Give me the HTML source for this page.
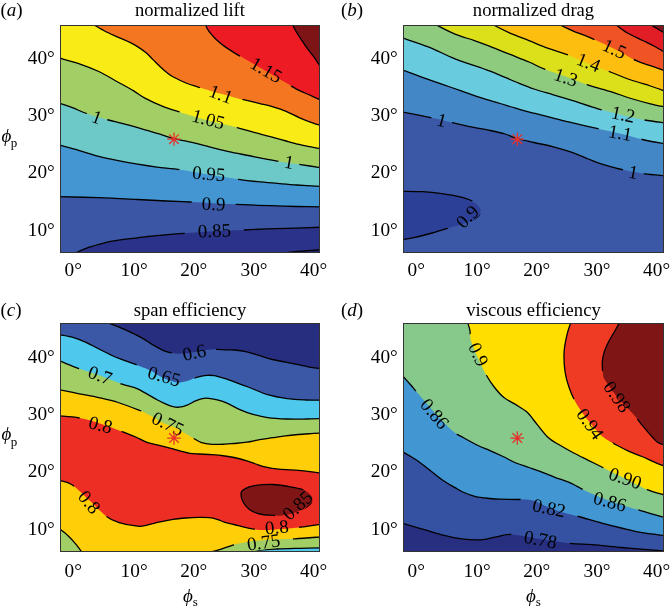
<!DOCTYPE html>
<html><head><meta charset="utf-8"><style>html,body{margin:0;padding:0;background:#fff;width:670px;height:613px;overflow:hidden}svg{display:block;will-change:transform}</style></head>
<body>
<svg width="670" height="613" viewBox="0 0 670 613" font-family='"Liberation Serif", serif'><rect width="670" height="613" fill="#fff"/><clipPath id="clipa"><rect x="60" y="25" width="260" height="228"/></clipPath>
<mask id="maska" maskUnits="userSpaceOnUse" x="0" y="0" width="670" height="613"><rect x="0" y="0" width="670" height="613" fill="#fff"/><rect x="-29.6" y="-7.5" width="59.2" height="15" transform="translate(266.3,69.8) rotate(30)" fill="#000"/><rect x="-22.0" y="-7.5" width="44.0" height="15" transform="translate(221,94) rotate(20)" fill="#000"/><rect x="-29.6" y="-7.5" width="59.2" height="15" transform="translate(208.4,119) rotate(15)" fill="#000"/><rect x="-10.6" y="-7.5" width="21.2" height="15" transform="translate(96.9,117.1) rotate(20)" fill="#000"/><rect x="-10.6" y="-7.5" width="21.2" height="15" transform="translate(289,161.9) rotate(10)" fill="#000"/><rect x="-29.6" y="-7.5" width="59.2" height="15" transform="translate(208.8,173.5) rotate(5)" fill="#000"/><rect x="-22.0" y="-7.5" width="44.0" height="15" transform="translate(213.7,203.6) rotate(2)" fill="#000"/><rect x="-29.6" y="-7.5" width="59.2" height="15" transform="translate(214.3,230.5) rotate(-2)" fill="#000"/></mask>
<g clip-path="url(#clipa)">
<rect x="60" y="25" width="260" height="228" fill="#2a3389"/>
<path d="M277.50,253.50C281.25,253.12 292.75,251.87 300.00,251.20C307.25,250.53 317.50,249.78 321.00,249.50L321.00,254.00Z" fill="#1f2566"/>
<path d="M75.50,254.00C75.75,253.70 75.25,253.15 77.00,252.20C78.75,251.25 82.33,249.60 86.00,248.30C89.67,247.00 94.67,245.58 99.00,244.40C103.33,243.22 107.67,242.07 112.00,241.20C116.33,240.33 120.73,239.77 125.00,239.20C129.27,238.63 133.93,238.23 137.60,237.80C141.27,237.37 143.77,236.97 147.00,236.60C150.23,236.23 150.80,236.15 157.00,235.60C163.20,235.05 174.70,234.03 184.20,233.30C193.70,232.57 204.13,231.75 214.00,231.20C223.87,230.65 234.47,230.38 243.40,230.00C252.33,229.62 260.33,229.18 267.60,228.90C274.87,228.62 278.10,228.58 287.00,228.30C295.90,228.02 315.33,227.38 321.00,227.20L321.00,24.00L59.00,24.00L59.00,254.00Z" fill="#3a56a4"/>
<path d="M59.00,196.60C65.63,196.78 85.70,197.22 98.80,197.70C111.90,198.18 126.28,198.95 137.60,199.50C148.92,200.05 157.97,200.58 166.70,201.00C175.43,201.42 182.28,201.63 190.00,202.00C197.72,202.37 205.40,202.82 213.00,203.20C220.60,203.58 228.12,203.95 235.60,204.30C243.08,204.65 250.95,205.03 257.90,205.30C264.85,205.57 270.83,205.70 277.30,205.90C283.77,206.10 289.42,206.33 296.70,206.50C303.98,206.67 316.95,206.83 321.00,206.90L321.00,24.00L59.00,24.00Z" fill="#4496d2"/>
<path d="M59.00,145.00C62.40,145.93 72.77,148.70 79.40,150.60C86.03,152.50 92.33,154.72 98.80,156.40C105.27,158.08 111.73,159.40 118.20,160.70C124.67,162.00 131.13,163.13 137.60,164.20C144.07,165.27 149.88,166.18 157.00,167.10C164.12,168.02 171.47,168.42 180.30,169.70C189.13,170.98 200.30,173.20 210.00,174.80C219.70,176.40 230.52,178.15 238.50,179.30C246.48,180.45 251.43,181.02 257.90,181.70C264.37,182.38 270.83,182.85 277.30,183.40C283.77,183.95 289.42,184.48 296.70,185.00C303.98,185.52 316.95,186.25 321.00,186.50L321.00,24.00L59.00,24.00Z" fill="#6dc9c7"/>
<path d="M59.00,103.20C61.10,103.90 67.23,105.77 71.60,107.40C75.97,109.03 80.98,111.43 85.20,113.00C89.42,114.57 93.02,115.63 96.90,116.80C100.78,117.97 103.33,118.67 108.50,120.00C113.67,121.33 121.43,123.07 127.90,124.80C134.37,126.53 141.95,128.83 147.30,130.40C152.65,131.97 155.55,132.83 160.00,134.20C164.45,135.57 169.10,137.32 174.00,138.60C178.90,139.88 183.50,140.53 189.40,141.90C195.30,143.27 202.83,145.18 209.40,146.80C215.97,148.42 222.33,150.15 228.80,151.60C235.27,153.05 241.73,154.20 248.20,155.50C254.67,156.80 260.80,158.15 267.60,159.40C274.40,160.65 283.50,162.13 289.00,163.00C294.50,163.87 295.27,163.82 300.60,164.60C305.93,165.38 317.60,167.18 321.00,167.70L321.00,24.00L59.00,24.00Z" fill="#a2cf65"/>
<path d="M59.00,58.00C62.40,58.97 72.77,61.55 79.40,63.80C86.03,66.05 92.33,68.43 98.80,71.50C105.27,74.57 112.38,78.97 118.20,82.20C124.02,85.43 129.17,88.20 133.70,90.90C138.23,93.60 140.55,95.82 145.40,98.40C150.25,100.98 156.98,104.10 162.80,106.40C168.62,108.70 175.77,110.73 180.30,112.20C184.83,113.67 185.05,113.73 190.00,115.20C194.95,116.67 202.57,119.07 210.00,121.00C217.43,122.93 227.27,124.90 234.60,126.80C241.93,128.70 247.60,130.63 254.00,132.40C260.40,134.17 267.65,135.97 273.00,137.40C278.35,138.83 281.75,139.83 286.10,141.00C290.45,142.17 295.18,143.47 299.10,144.40C303.02,145.33 305.95,145.88 309.60,146.60C313.25,147.32 319.10,148.35 321.00,148.70L321.00,24.00L59.00,24.00Z" fill="#f9ec16"/>
<path d="M92.80,24.00C93.10,24.20 92.48,23.95 94.60,25.20C96.72,26.45 101.53,29.48 105.50,31.50C109.47,33.52 114.08,35.35 118.40,37.30C122.72,39.25 127.72,41.32 131.40,43.20C135.08,45.08 137.90,46.87 140.50,48.60C143.10,50.33 144.83,51.68 147.00,53.60C149.17,55.52 151.33,57.95 153.50,60.10C155.67,62.25 157.83,64.47 160.00,66.50C162.17,68.53 164.33,70.58 166.50,72.30C168.67,74.02 169.75,75.02 173.00,76.80C176.25,78.58 181.90,81.32 186.00,83.00C190.10,84.68 194.80,86.00 197.60,86.90C200.40,87.80 199.07,87.28 202.80,88.40C206.53,89.52 214.80,92.10 220.00,93.60C225.20,95.10 230.27,96.43 234.00,97.40C237.73,98.37 238.07,98.37 242.40,99.40C246.73,100.43 254.90,102.35 260.00,103.60C265.10,104.85 268.65,105.62 273.00,106.90C277.35,108.18 281.75,109.52 286.10,111.30C290.45,113.08 295.18,115.85 299.10,117.60C303.02,119.35 305.95,120.47 309.60,121.80C313.25,123.13 319.10,124.97 321.00,125.60L321.00,24.00Z" fill="#f47620"/>
<path d="M205.30,24.00C205.62,24.75 206.43,27.08 207.20,28.50C207.97,29.92 208.45,30.72 209.90,32.50C211.35,34.28 213.40,36.85 215.90,39.20C218.40,41.55 221.05,43.87 224.90,46.60C228.75,49.33 232.15,51.53 239.00,55.60C245.85,59.67 257.67,66.17 266.00,71.00C274.33,75.83 283.48,81.37 289.00,84.60C294.52,87.83 295.67,88.67 299.10,90.40C302.53,92.13 305.95,93.37 309.60,95.00C313.25,96.63 319.10,99.33 321.00,100.20L321.00,24.00Z" fill="#ed1c24"/>
<path d="M292.40,24.00C292.83,24.92 294.00,27.63 295.00,29.50C296.00,31.37 296.57,32.35 298.40,35.20C300.23,38.05 303.45,43.02 306.00,46.60C308.55,50.18 311.57,53.75 313.70,56.70C315.83,59.65 317.58,62.50 318.80,64.30C320.02,66.10 320.63,66.97 321.00,67.50L321.00,24.00Z" fill="#7f1416"/>
<g mask="url(#maska)" fill="none" stroke="#000" stroke-width="1.3" stroke-linejoin="round">
<path d="M277.50,253.50C281.25,253.12 292.75,251.87 300.00,251.20C307.25,250.53 317.50,249.78 321.00,249.50"/>
<path d="M75.50,254.00C75.75,253.70 75.25,253.15 77.00,252.20C78.75,251.25 82.33,249.60 86.00,248.30C89.67,247.00 94.67,245.58 99.00,244.40C103.33,243.22 107.67,242.07 112.00,241.20C116.33,240.33 120.73,239.77 125.00,239.20C129.27,238.63 133.93,238.23 137.60,237.80C141.27,237.37 143.77,236.97 147.00,236.60C150.23,236.23 150.80,236.15 157.00,235.60C163.20,235.05 174.70,234.03 184.20,233.30C193.70,232.57 204.13,231.75 214.00,231.20C223.87,230.65 234.47,230.38 243.40,230.00C252.33,229.62 260.33,229.18 267.60,228.90C274.87,228.62 278.10,228.58 287.00,228.30C295.90,228.02 315.33,227.38 321.00,227.20"/>
<path d="M59.00,196.60C65.63,196.78 85.70,197.22 98.80,197.70C111.90,198.18 126.28,198.95 137.60,199.50C148.92,200.05 157.97,200.58 166.70,201.00C175.43,201.42 182.28,201.63 190.00,202.00C197.72,202.37 205.40,202.82 213.00,203.20C220.60,203.58 228.12,203.95 235.60,204.30C243.08,204.65 250.95,205.03 257.90,205.30C264.85,205.57 270.83,205.70 277.30,205.90C283.77,206.10 289.42,206.33 296.70,206.50C303.98,206.67 316.95,206.83 321.00,206.90"/>
<path d="M59.00,145.00C62.40,145.93 72.77,148.70 79.40,150.60C86.03,152.50 92.33,154.72 98.80,156.40C105.27,158.08 111.73,159.40 118.20,160.70C124.67,162.00 131.13,163.13 137.60,164.20C144.07,165.27 149.88,166.18 157.00,167.10C164.12,168.02 171.47,168.42 180.30,169.70C189.13,170.98 200.30,173.20 210.00,174.80C219.70,176.40 230.52,178.15 238.50,179.30C246.48,180.45 251.43,181.02 257.90,181.70C264.37,182.38 270.83,182.85 277.30,183.40C283.77,183.95 289.42,184.48 296.70,185.00C303.98,185.52 316.95,186.25 321.00,186.50"/>
<path d="M59.00,103.20C61.10,103.90 67.23,105.77 71.60,107.40C75.97,109.03 80.98,111.43 85.20,113.00C89.42,114.57 93.02,115.63 96.90,116.80C100.78,117.97 103.33,118.67 108.50,120.00C113.67,121.33 121.43,123.07 127.90,124.80C134.37,126.53 141.95,128.83 147.30,130.40C152.65,131.97 155.55,132.83 160.00,134.20C164.45,135.57 169.10,137.32 174.00,138.60C178.90,139.88 183.50,140.53 189.40,141.90C195.30,143.27 202.83,145.18 209.40,146.80C215.97,148.42 222.33,150.15 228.80,151.60C235.27,153.05 241.73,154.20 248.20,155.50C254.67,156.80 260.80,158.15 267.60,159.40C274.40,160.65 283.50,162.13 289.00,163.00C294.50,163.87 295.27,163.82 300.60,164.60C305.93,165.38 317.60,167.18 321.00,167.70"/>
<path d="M59.00,58.00C62.40,58.97 72.77,61.55 79.40,63.80C86.03,66.05 92.33,68.43 98.80,71.50C105.27,74.57 112.38,78.97 118.20,82.20C124.02,85.43 129.17,88.20 133.70,90.90C138.23,93.60 140.55,95.82 145.40,98.40C150.25,100.98 156.98,104.10 162.80,106.40C168.62,108.70 175.77,110.73 180.30,112.20C184.83,113.67 185.05,113.73 190.00,115.20C194.95,116.67 202.57,119.07 210.00,121.00C217.43,122.93 227.27,124.90 234.60,126.80C241.93,128.70 247.60,130.63 254.00,132.40C260.40,134.17 267.65,135.97 273.00,137.40C278.35,138.83 281.75,139.83 286.10,141.00C290.45,142.17 295.18,143.47 299.10,144.40C303.02,145.33 305.95,145.88 309.60,146.60C313.25,147.32 319.10,148.35 321.00,148.70"/>
<path d="M92.80,24.00C93.10,24.20 92.48,23.95 94.60,25.20C96.72,26.45 101.53,29.48 105.50,31.50C109.47,33.52 114.08,35.35 118.40,37.30C122.72,39.25 127.72,41.32 131.40,43.20C135.08,45.08 137.90,46.87 140.50,48.60C143.10,50.33 144.83,51.68 147.00,53.60C149.17,55.52 151.33,57.95 153.50,60.10C155.67,62.25 157.83,64.47 160.00,66.50C162.17,68.53 164.33,70.58 166.50,72.30C168.67,74.02 169.75,75.02 173.00,76.80C176.25,78.58 181.90,81.32 186.00,83.00C190.10,84.68 194.80,86.00 197.60,86.90C200.40,87.80 199.07,87.28 202.80,88.40C206.53,89.52 214.80,92.10 220.00,93.60C225.20,95.10 230.27,96.43 234.00,97.40C237.73,98.37 238.07,98.37 242.40,99.40C246.73,100.43 254.90,102.35 260.00,103.60C265.10,104.85 268.65,105.62 273.00,106.90C277.35,108.18 281.75,109.52 286.10,111.30C290.45,113.08 295.18,115.85 299.10,117.60C303.02,119.35 305.95,120.47 309.60,121.80C313.25,123.13 319.10,124.97 321.00,125.60"/>
<path d="M205.30,24.00C205.62,24.75 206.43,27.08 207.20,28.50C207.97,29.92 208.45,30.72 209.90,32.50C211.35,34.28 213.40,36.85 215.90,39.20C218.40,41.55 221.05,43.87 224.90,46.60C228.75,49.33 232.15,51.53 239.00,55.60C245.85,59.67 257.67,66.17 266.00,71.00C274.33,75.83 283.48,81.37 289.00,84.60C294.52,87.83 295.67,88.67 299.10,90.40C302.53,92.13 305.95,93.37 309.60,95.00C313.25,96.63 319.10,99.33 321.00,100.20"/>
<path d="M292.40,24.00C292.83,24.92 294.00,27.63 295.00,29.50C296.00,31.37 296.57,32.35 298.40,35.20C300.23,38.05 303.45,43.02 306.00,46.60C308.55,50.18 311.57,53.75 313.70,56.70C315.83,59.65 317.58,62.50 318.80,64.30C320.02,66.10 320.63,66.97 321.00,67.50"/>
</g>
<text transform="translate(266.3,69.8) rotate(30)" x="0" y="6.46" text-anchor="middle" font-size="19">1.15</text>
<text transform="translate(221,94) rotate(20)" x="0" y="6.46" text-anchor="middle" font-size="19">1.1</text>
<text transform="translate(208.4,119) rotate(15)" x="0" y="6.46" text-anchor="middle" font-size="19">1.05</text>
<text transform="translate(96.9,117.1) rotate(20)" x="0" y="6.46" text-anchor="middle" font-size="19">1</text>
<text transform="translate(289,161.9) rotate(10)" x="0" y="6.46" text-anchor="middle" font-size="19">1</text>
<text transform="translate(208.8,173.5) rotate(5)" x="0" y="6.46" text-anchor="middle" font-size="19">0.95</text>
<text transform="translate(213.7,203.6) rotate(2)" x="0" y="6.46" text-anchor="middle" font-size="19">0.9</text>
<text transform="translate(214.3,230.5) rotate(-2)" x="0" y="6.46" text-anchor="middle" font-size="19">0.85</text>
<path d="M167.20,139.20L180.80,139.20M169.19,134.39L178.81,144.01M174.00,132.40L174.00,146.00M178.81,134.39L169.19,144.01" stroke="#e8302a" stroke-width="1.25" fill="none"/>
</g>
<rect x="60.5" y="25.5" width="259" height="227" fill="none" stroke="#333" stroke-width="1"/><clipPath id="clipb"><rect x="403" y="25" width="261" height="228"/></clipPath>
<mask id="maskb" maskUnits="userSpaceOnUse" x="0" y="0" width="670" height="613"><rect x="0" y="0" width="670" height="613" fill="#fff"/><rect x="-22.0" y="-7.5" width="44.0" height="15" transform="translate(614.5,48.7) rotate(25)" fill="#000"/><rect x="-22.0" y="-7.5" width="44.0" height="15" transform="translate(588.7,62.2) rotate(22)" fill="#000"/><rect x="-22.0" y="-7.5" width="44.0" height="15" transform="translate(566,77) rotate(18)" fill="#000"/><rect x="-22.0" y="-7.5" width="44.0" height="15" transform="translate(623.3,114.2) rotate(12)" fill="#000"/><rect x="-22.0" y="-7.5" width="44.0" height="15" transform="translate(620.3,132.6) rotate(10)" fill="#000"/><rect x="-10.6" y="-7.5" width="21.2" height="15" transform="translate(441.8,120) rotate(15)" fill="#000"/><rect x="-10.6" y="-7.5" width="21.2" height="15" transform="translate(633.3,172) rotate(10)" fill="#000"/><rect x="-22.0" y="-7.5" width="44.0" height="15" transform="translate(467.2,216.5) rotate(-45)" fill="#000"/></mask>
<g clip-path="url(#clipb)">
<rect x="403" y="25" width="261" height="228" fill="#3b58a6"/>
<path d="M402.00,191.30C405.40,191.37 415.77,191.30 422.40,191.70C429.03,192.10 435.33,192.78 441.80,193.70C448.27,194.62 455.87,195.82 461.20,197.20C466.53,198.58 470.57,199.78 473.80,202.00C477.03,204.22 480.40,207.67 480.60,210.50C480.80,213.33 478.10,216.75 475.00,219.00C471.90,221.25 466.08,222.60 462.00,224.00C457.92,225.40 455.48,225.90 450.50,227.40C445.52,228.90 438.40,231.25 432.10,233.00C425.80,234.75 417.72,236.80 412.70,237.90C407.68,239.00 403.78,239.32 402.00,239.60L402.00,190.00Z" fill="#2d4098"/>
<path d="M402.00,112.00C406.37,112.85 421.57,115.77 428.20,117.10C434.83,118.43 437.60,119.03 441.80,120.00C446.00,120.97 448.55,121.77 453.40,122.90C458.25,124.03 464.75,125.53 470.90,126.80C477.05,128.07 484.62,129.30 490.30,130.50C495.98,131.70 500.55,132.67 505.00,134.00C509.45,135.33 512.17,137.08 517.00,138.50C521.83,139.92 527.93,141.12 534.00,142.50C540.07,143.88 546.93,145.12 553.40,146.80C559.87,148.48 566.98,150.57 572.80,152.60C578.62,154.63 583.45,157.07 588.30,159.00C593.15,160.93 596.72,162.53 601.90,164.20C607.08,165.87 614.22,167.73 619.40,169.00C624.58,170.27 628.80,170.98 633.00,171.80C637.20,172.62 639.27,173.23 644.60,173.90C649.93,174.57 661.60,175.48 665.00,175.80L665.00,24.00L402.00,24.00Z" fill="#4487c6"/>
<path d="M402.00,69.80C405.40,71.05 415.77,74.92 422.40,77.30C429.03,79.68 435.33,81.83 441.80,84.10C448.27,86.37 454.73,88.63 461.20,90.90C467.67,93.17 474.13,95.60 480.60,97.70C487.07,99.80 493.53,101.57 500.00,103.50C506.47,105.43 513.73,107.68 519.40,109.30C525.07,110.92 528.33,111.73 534.00,113.20C539.67,114.67 546.93,116.48 553.40,118.10C559.87,119.72 565.37,121.13 572.80,122.90C580.23,124.67 590.13,126.93 598.00,128.70C605.87,130.47 612.23,131.62 620.00,133.50C627.77,135.38 637.10,138.28 644.60,140.00C652.10,141.72 661.60,143.17 665.00,143.80L665.00,24.00L402.00,24.00Z" fill="#68ccde"/>
<path d="M402.00,37.80C406.50,39.35 420.17,43.60 429.00,47.10C437.83,50.60 444.83,54.80 455.00,58.80C465.17,62.80 479.83,67.23 490.00,71.10C500.17,74.97 508.67,79.02 516.00,82.00C523.33,84.98 527.77,86.87 534.00,89.00C540.23,91.13 546.93,92.87 553.40,94.80C559.87,96.73 565.37,98.27 572.80,100.60C580.23,102.93 589.80,106.40 598.00,108.80C606.20,111.20 614.23,113.13 622.00,115.00C629.77,116.87 637.43,118.68 644.60,120.00C651.77,121.32 661.60,122.42 665.00,122.90L665.00,24.00L402.00,24.00Z" fill="#8ecb7e"/>
<path d="M436.00,24.00C436.25,24.25 434.33,23.82 437.50,25.50C440.67,27.18 448.85,31.58 455.00,34.10C461.15,36.62 468.57,38.55 474.40,40.60C480.23,42.65 484.15,44.13 490.00,46.40C495.85,48.67 503.00,51.60 509.50,54.20C516.00,56.80 523.15,59.50 529.00,62.00C534.85,64.50 538.43,66.78 544.60,69.20C550.77,71.62 558.72,73.85 566.00,76.50C573.28,79.15 580.70,82.53 588.30,85.10C595.90,87.67 604.48,89.67 611.60,91.90C618.72,94.13 624.53,96.52 631.00,98.50C637.47,100.48 644.73,102.38 650.40,103.80C656.07,105.22 662.57,106.47 665.00,107.00L665.00,24.00Z" fill="#dce01a"/>
<path d="M493.00,24.00C493.25,24.25 491.75,24.03 494.50,25.50C497.25,26.97 503.75,30.28 509.50,32.80C515.25,35.32 522.52,38.00 529.00,40.60C535.48,43.20 541.92,46.02 548.40,48.40C554.88,50.78 561.13,52.30 567.90,54.90C574.67,57.50 581.72,61.07 589.00,64.00C596.28,66.93 604.60,69.83 611.60,72.50C618.60,75.17 624.53,77.75 631.00,80.00C637.47,82.25 644.73,84.17 650.40,86.00C656.07,87.83 662.57,90.17 665.00,91.00L665.00,24.00Z" fill="#febe10"/>
<path d="M558.50,24.00C560.88,25.13 567.18,28.37 572.80,30.80C578.42,33.23 585.25,35.57 592.20,38.60C599.15,41.63 607.07,45.28 614.50,49.00C621.93,52.72 630.82,58.12 636.80,60.90C642.78,63.68 645.70,64.05 650.40,65.70C655.10,67.35 662.57,69.95 665.00,70.80L665.00,24.00Z" fill="#f05424"/>
<path d="M615.00,24.00C617.02,25.47 622.48,30.05 627.10,32.80C631.72,35.55 638.17,38.25 642.70,40.50C647.23,42.75 650.58,44.30 654.30,46.30C658.02,48.30 663.22,51.47 665.00,52.50L665.00,24.00Z" fill="#e11e26"/>
<path d="M649.80,24.00C650.92,24.70 653.97,26.67 656.50,28.20C659.03,29.73 663.58,32.37 665.00,33.20L665.00,24.00Z" fill="#7f1416"/>
<g mask="url(#maskb)" fill="none" stroke="#000" stroke-width="1.3" stroke-linejoin="round">
<path d="M402.00,191.30C405.40,191.37 415.77,191.30 422.40,191.70C429.03,192.10 435.33,192.78 441.80,193.70C448.27,194.62 455.87,195.82 461.20,197.20C466.53,198.58 470.57,199.78 473.80,202.00C477.03,204.22 480.40,207.67 480.60,210.50C480.80,213.33 478.10,216.75 475.00,219.00C471.90,221.25 466.08,222.60 462.00,224.00C457.92,225.40 455.48,225.90 450.50,227.40C445.52,228.90 438.40,231.25 432.10,233.00C425.80,234.75 417.72,236.80 412.70,237.90C407.68,239.00 403.78,239.32 402.00,239.60"/>
<path d="M402.00,112.00C406.37,112.85 421.57,115.77 428.20,117.10C434.83,118.43 437.60,119.03 441.80,120.00C446.00,120.97 448.55,121.77 453.40,122.90C458.25,124.03 464.75,125.53 470.90,126.80C477.05,128.07 484.62,129.30 490.30,130.50C495.98,131.70 500.55,132.67 505.00,134.00C509.45,135.33 512.17,137.08 517.00,138.50C521.83,139.92 527.93,141.12 534.00,142.50C540.07,143.88 546.93,145.12 553.40,146.80C559.87,148.48 566.98,150.57 572.80,152.60C578.62,154.63 583.45,157.07 588.30,159.00C593.15,160.93 596.72,162.53 601.90,164.20C607.08,165.87 614.22,167.73 619.40,169.00C624.58,170.27 628.80,170.98 633.00,171.80C637.20,172.62 639.27,173.23 644.60,173.90C649.93,174.57 661.60,175.48 665.00,175.80"/>
<path d="M402.00,69.80C405.40,71.05 415.77,74.92 422.40,77.30C429.03,79.68 435.33,81.83 441.80,84.10C448.27,86.37 454.73,88.63 461.20,90.90C467.67,93.17 474.13,95.60 480.60,97.70C487.07,99.80 493.53,101.57 500.00,103.50C506.47,105.43 513.73,107.68 519.40,109.30C525.07,110.92 528.33,111.73 534.00,113.20C539.67,114.67 546.93,116.48 553.40,118.10C559.87,119.72 565.37,121.13 572.80,122.90C580.23,124.67 590.13,126.93 598.00,128.70C605.87,130.47 612.23,131.62 620.00,133.50C627.77,135.38 637.10,138.28 644.60,140.00C652.10,141.72 661.60,143.17 665.00,143.80"/>
<path d="M402.00,37.80C406.50,39.35 420.17,43.60 429.00,47.10C437.83,50.60 444.83,54.80 455.00,58.80C465.17,62.80 479.83,67.23 490.00,71.10C500.17,74.97 508.67,79.02 516.00,82.00C523.33,84.98 527.77,86.87 534.00,89.00C540.23,91.13 546.93,92.87 553.40,94.80C559.87,96.73 565.37,98.27 572.80,100.60C580.23,102.93 589.80,106.40 598.00,108.80C606.20,111.20 614.23,113.13 622.00,115.00C629.77,116.87 637.43,118.68 644.60,120.00C651.77,121.32 661.60,122.42 665.00,122.90"/>
<path d="M436.00,24.00C436.25,24.25 434.33,23.82 437.50,25.50C440.67,27.18 448.85,31.58 455.00,34.10C461.15,36.62 468.57,38.55 474.40,40.60C480.23,42.65 484.15,44.13 490.00,46.40C495.85,48.67 503.00,51.60 509.50,54.20C516.00,56.80 523.15,59.50 529.00,62.00C534.85,64.50 538.43,66.78 544.60,69.20C550.77,71.62 558.72,73.85 566.00,76.50C573.28,79.15 580.70,82.53 588.30,85.10C595.90,87.67 604.48,89.67 611.60,91.90C618.72,94.13 624.53,96.52 631.00,98.50C637.47,100.48 644.73,102.38 650.40,103.80C656.07,105.22 662.57,106.47 665.00,107.00"/>
<path d="M493.00,24.00C493.25,24.25 491.75,24.03 494.50,25.50C497.25,26.97 503.75,30.28 509.50,32.80C515.25,35.32 522.52,38.00 529.00,40.60C535.48,43.20 541.92,46.02 548.40,48.40C554.88,50.78 561.13,52.30 567.90,54.90C574.67,57.50 581.72,61.07 589.00,64.00C596.28,66.93 604.60,69.83 611.60,72.50C618.60,75.17 624.53,77.75 631.00,80.00C637.47,82.25 644.73,84.17 650.40,86.00C656.07,87.83 662.57,90.17 665.00,91.00"/>
<path d="M558.50,24.00C560.88,25.13 567.18,28.37 572.80,30.80C578.42,33.23 585.25,35.57 592.20,38.60C599.15,41.63 607.07,45.28 614.50,49.00C621.93,52.72 630.82,58.12 636.80,60.90C642.78,63.68 645.70,64.05 650.40,65.70C655.10,67.35 662.57,69.95 665.00,70.80"/>
<path d="M615.00,24.00C617.02,25.47 622.48,30.05 627.10,32.80C631.72,35.55 638.17,38.25 642.70,40.50C647.23,42.75 650.58,44.30 654.30,46.30C658.02,48.30 663.22,51.47 665.00,52.50"/>
<path d="M649.80,24.00C650.92,24.70 653.97,26.67 656.50,28.20C659.03,29.73 663.58,32.37 665.00,33.20"/>
</g>
<text transform="translate(614.5,48.7) rotate(25)" x="0" y="6.46" text-anchor="middle" font-size="19">1.5</text>
<text transform="translate(588.7,62.2) rotate(22)" x="0" y="6.46" text-anchor="middle" font-size="19">1.4</text>
<text transform="translate(566,77) rotate(18)" x="0" y="6.46" text-anchor="middle" font-size="19">1.3</text>
<text transform="translate(623.3,114.2) rotate(12)" x="0" y="6.46" text-anchor="middle" font-size="19">1.2</text>
<text transform="translate(620.3,132.6) rotate(10)" x="0" y="6.46" text-anchor="middle" font-size="19">1.1</text>
<text transform="translate(441.8,120) rotate(15)" x="0" y="6.46" text-anchor="middle" font-size="19">1</text>
<text transform="translate(633.3,172) rotate(10)" x="0" y="6.46" text-anchor="middle" font-size="19">1</text>
<text transform="translate(467.2,216.5) rotate(-45)" x="0" y="6.46" text-anchor="middle" font-size="19">0.9</text>
<path d="M510.50,139.20L524.10,139.20M512.49,134.39L522.11,144.01M517.30,132.40L517.30,146.00M522.11,134.39L512.49,144.01" stroke="#e8302a" stroke-width="1.25" fill="none"/>
</g>
<rect x="403.5" y="25.5" width="260" height="227" fill="none" stroke="#333" stroke-width="1"/><clipPath id="clipc"><rect x="60" y="323" width="260" height="229"/></clipPath>
<mask id="maskc" maskUnits="userSpaceOnUse" x="0" y="0" width="670" height="613"><rect x="0" y="0" width="670" height="613" fill="#fff"/><rect x="-22.0" y="-7.5" width="44.0" height="15" transform="translate(194.2,352.3) rotate(-12)" fill="#000"/><rect x="-29.6" y="-7.5" width="59.2" height="15" transform="translate(164.3,376) rotate(16)" fill="#000"/><rect x="-22.0" y="-7.5" width="44.0" height="15" transform="translate(100.2,375) rotate(20)" fill="#000"/><rect x="-29.6" y="-7.5" width="59.2" height="15" transform="translate(168,423.6) rotate(26)" fill="#000"/><rect x="-22.0" y="-7.5" width="44.0" height="15" transform="translate(100.7,424.5) rotate(15)" fill="#000"/><rect x="-22.0" y="-7.5" width="44.0" height="15" transform="translate(89.5,502) rotate(50)" fill="#000"/><rect x="-29.6" y="-7.5" width="59.2" height="15" transform="translate(297.3,505.3) rotate(-43)" fill="#000"/><rect x="-22.0" y="-7.5" width="44.0" height="15" transform="translate(276.8,527) rotate(-5)" fill="#000"/><rect x="-29.6" y="-7.5" width="59.2" height="15" transform="translate(263.5,542) rotate(-8)" fill="#000"/></mask>
<g clip-path="url(#clipc)">
<rect x="60" y="323" width="260" height="229" fill="#272e80"/>
<path d="M108.00,322.00C108.35,322.27 108.45,322.83 110.10,323.60C111.75,324.37 114.60,325.22 117.90,326.60C121.20,327.98 125.92,330.02 129.90,331.90C133.88,333.78 138.23,335.90 141.80,337.90C145.37,339.90 148.32,342.10 151.30,343.90C154.28,345.70 156.90,347.32 159.70,348.70C162.50,350.08 164.72,351.35 168.10,352.20C171.48,353.05 175.68,353.78 180.00,353.80C184.32,353.82 189.83,352.90 194.00,352.30C198.17,351.70 201.28,350.70 205.00,350.20C208.72,349.70 212.80,349.37 216.30,349.30C219.80,349.23 223.05,349.68 226.00,349.80C228.95,349.92 230.53,349.65 234.00,350.00C237.47,350.35 242.52,350.95 246.80,351.90C251.08,352.85 255.42,354.43 259.70,355.70C263.98,356.97 268.22,358.43 272.50,359.50C276.78,360.57 281.12,361.23 285.40,362.10C289.68,362.97 293.93,363.83 298.20,364.70C302.47,365.57 307.20,366.65 311.00,367.30C314.80,367.95 319.33,368.38 321.00,368.60L321.00,553.00L59.00,553.00L59.00,322.00Z" fill="#3b58a6"/>
<path d="M59.00,334.60C61.33,335.05 68.50,336.02 73.00,337.30C77.50,338.58 81.67,340.35 86.00,342.30C90.33,344.25 94.67,346.80 99.00,349.00C103.33,351.20 107.67,353.55 112.00,355.50C116.33,357.45 120.47,358.97 125.00,360.70C129.53,362.43 134.88,364.23 139.20,365.90C143.52,367.57 147.22,368.87 150.90,370.70C154.58,372.53 157.82,375.17 161.30,376.90C164.78,378.63 168.83,380.13 171.80,381.10C174.77,382.07 176.32,382.78 179.10,382.70C181.88,382.62 185.88,381.38 188.50,380.60C191.12,379.82 192.80,378.70 194.80,378.00C196.80,377.30 198.42,376.85 200.50,376.40C202.58,375.95 205.05,375.43 207.30,375.30C209.55,375.17 211.88,375.28 214.00,375.60C216.12,375.92 217.53,376.50 220.00,377.20C222.47,377.90 224.10,378.17 228.80,379.80C233.50,381.43 241.73,384.52 248.20,387.00C254.67,389.48 261.13,392.77 267.60,394.70C274.07,396.63 280.53,397.72 287.00,398.60C293.47,399.48 300.73,399.73 306.40,400.00C312.07,400.27 318.57,400.17 321.00,400.20L321.00,553.00L59.00,553.00Z" fill="#4ec8ec"/>
<path d="M59.00,360.50C61.98,361.72 70.07,365.30 76.90,367.80C83.73,370.30 92.47,372.78 100.00,375.50C107.53,378.22 115.83,381.87 122.10,384.10C128.37,386.33 131.78,386.28 137.60,388.90C143.42,391.52 152.43,397.35 157.00,399.80C161.57,402.25 162.50,402.52 165.00,403.60C167.50,404.68 169.67,405.70 172.00,406.30C174.33,406.90 176.47,407.40 179.00,407.20C181.53,407.00 184.45,406.15 187.20,405.10C189.95,404.05 192.72,402.03 195.50,400.90C198.28,399.77 201.12,398.65 203.90,398.30C206.68,397.95 209.07,398.28 212.20,398.80C215.33,399.32 219.73,400.43 222.70,401.40C225.67,402.37 227.05,403.20 230.00,404.60C232.95,406.00 236.72,408.22 240.40,409.80C244.08,411.38 247.57,412.80 252.10,414.10C256.63,415.40 261.78,416.78 267.60,417.60C273.42,418.42 280.53,418.77 287.00,419.00C293.47,419.23 300.73,419.07 306.40,419.00C312.07,418.93 318.57,418.67 321.00,418.60L321.00,553.00L59.00,553.00Z" fill="#a2ce66"/>
<path d="M59.00,389.70C62.40,390.38 72.77,392.48 79.40,393.80C86.03,395.12 92.33,396.15 98.80,397.60C105.27,399.05 111.08,400.23 118.20,402.50C125.32,404.77 137.03,409.48 141.50,411.20C145.97,412.92 143.05,411.78 145.00,412.80C146.95,413.82 150.47,415.73 153.20,417.30C155.93,418.87 158.67,420.83 161.40,422.20C164.13,423.57 166.87,424.40 169.60,425.50C172.33,426.60 175.33,427.57 177.80,428.80C180.27,430.03 182.33,431.67 184.40,432.90C186.47,434.13 188.55,435.23 190.20,436.20C191.85,437.17 192.42,437.63 194.30,438.70C196.18,439.77 198.57,441.67 201.50,442.60C204.43,443.53 208.00,444.03 211.90,444.30C215.80,444.57 221.22,444.33 224.90,444.20C228.58,444.07 230.35,443.83 234.00,443.50C237.65,443.17 242.52,442.85 246.80,442.20C251.08,441.55 255.42,440.35 259.70,439.60C263.98,438.85 268.22,438.33 272.50,437.70C276.78,437.07 281.12,436.33 285.40,435.80C289.68,435.27 293.93,434.87 298.20,434.50C302.47,434.13 307.20,433.85 311.00,433.60C314.80,433.35 319.33,433.10 321.00,433.00L321.00,553.00L59.00,553.00Z" fill="#fece08"/>
<path d="M59.00,415.90C62.40,416.25 72.57,416.73 79.40,418.00C86.23,419.27 92.88,421.23 100.00,423.50C107.12,425.77 116.15,429.35 122.10,431.60C128.05,433.85 131.55,435.22 135.70,437.00C139.85,438.78 142.95,440.87 147.00,442.30C151.05,443.73 155.67,444.52 160.00,445.60C164.33,446.68 169.33,447.83 173.00,448.80C176.67,449.77 179.20,450.65 182.00,451.40C184.80,452.15 186.98,452.87 189.80,453.30C192.62,453.73 195.22,453.77 198.90,454.00C202.58,454.23 207.57,454.37 211.90,454.70C216.23,455.03 221.22,455.53 224.90,456.00C228.58,456.47 230.35,456.70 234.00,457.50C237.65,458.30 243.17,459.72 246.80,460.80C250.43,461.88 252.60,462.93 255.80,464.00C259.00,465.07 262.15,466.33 266.00,467.20C269.85,468.07 273.53,468.67 278.90,469.20C284.27,469.73 293.02,470.00 298.20,470.40C303.38,470.80 306.20,471.13 310.00,471.60C313.80,472.07 319.17,472.93 321.00,473.20L321.00,553.00L59.00,553.00Z" fill="#ed2e24"/>
<path d="M59.00,480.40C61.10,481.08 66.60,481.23 71.60,484.50C76.60,487.77 83.17,494.67 89.00,500.00C94.83,505.33 101.73,512.78 106.60,516.50C111.47,520.22 113.03,520.68 118.20,522.30C123.37,523.92 132.80,525.72 137.60,526.20C142.40,526.68 143.27,525.92 147.00,525.20C150.73,524.48 155.67,522.88 160.00,521.90C164.33,520.92 168.67,519.95 173.00,519.30C177.33,518.65 181.67,518.32 186.00,518.00C190.33,517.68 195.12,517.47 199.00,517.40C202.88,517.33 206.28,517.28 209.30,517.60C212.32,517.92 214.50,518.52 217.10,519.30C219.70,520.08 222.08,521.43 224.90,522.30C227.72,523.17 230.12,523.53 234.00,524.50C237.88,525.47 243.25,527.17 248.20,528.10C253.15,529.03 258.07,529.95 263.70,530.10C269.33,530.25 275.85,529.48 282.00,529.00C288.15,528.52 294.10,527.98 300.60,527.20C307.10,526.42 317.60,524.78 321.00,524.30L321.00,553.00L59.00,553.00Z" fill="#fece08"/>
<path d="M59.00,528.50C60.47,529.67 65.03,532.93 67.80,535.50C70.57,538.07 73.22,541.07 75.60,543.90C77.98,546.73 80.87,550.82 82.10,552.50C83.33,554.18 82.85,553.75 83.00,554.00L59.00,553.00Z" fill="#a2ce66"/>
<path d="M203.00,553.00C205.37,552.57 211.28,551.97 217.20,550.40C223.12,548.83 230.53,545.33 238.50,543.60C246.47,541.87 255.62,540.80 265.00,540.00C274.38,539.20 285.47,539.32 294.80,538.80C304.13,538.28 316.63,537.22 321.00,536.90L321.00,553.00Z" fill="#a2ce66"/>
<path d="M246.00,553.00C248.33,552.53 254.78,550.87 260.00,550.20C265.22,549.53 270.63,549.32 277.30,549.00C283.97,548.68 292.72,548.50 300.00,548.30C307.28,548.10 317.50,547.88 321.00,547.80L321.00,553.00Z" fill="#4ec8ec"/>
<path d="M241.10,492.80C241.43,490.63 242.97,489.97 245.00,488.80C247.03,487.63 248.72,486.52 253.30,485.80C257.88,485.08 266.08,484.28 272.50,484.50C278.92,484.72 286.23,486.03 291.80,487.10C297.37,488.17 302.48,489.00 305.90,490.90C309.32,492.80 311.95,495.98 312.30,498.50C312.65,501.02 310.88,503.67 308.00,506.00C305.12,508.33 299.33,510.92 295.00,512.50C290.67,514.08 285.75,515.03 282.00,515.50C278.25,515.97 276.22,515.55 272.50,515.30C268.78,515.05 263.55,514.97 259.70,514.00C255.85,513.03 252.18,511.53 249.40,509.50C246.62,507.47 244.38,504.58 243.00,501.80C241.62,499.02 240.77,494.97 241.10,492.80Z" fill="#801516"/>
<g mask="url(#maskc)" fill="none" stroke="#000" stroke-width="1.3" stroke-linejoin="round">
<path d="M108.00,322.00C108.35,322.27 108.45,322.83 110.10,323.60C111.75,324.37 114.60,325.22 117.90,326.60C121.20,327.98 125.92,330.02 129.90,331.90C133.88,333.78 138.23,335.90 141.80,337.90C145.37,339.90 148.32,342.10 151.30,343.90C154.28,345.70 156.90,347.32 159.70,348.70C162.50,350.08 164.72,351.35 168.10,352.20C171.48,353.05 175.68,353.78 180.00,353.80C184.32,353.82 189.83,352.90 194.00,352.30C198.17,351.70 201.28,350.70 205.00,350.20C208.72,349.70 212.80,349.37 216.30,349.30C219.80,349.23 223.05,349.68 226.00,349.80C228.95,349.92 230.53,349.65 234.00,350.00C237.47,350.35 242.52,350.95 246.80,351.90C251.08,352.85 255.42,354.43 259.70,355.70C263.98,356.97 268.22,358.43 272.50,359.50C276.78,360.57 281.12,361.23 285.40,362.10C289.68,362.97 293.93,363.83 298.20,364.70C302.47,365.57 307.20,366.65 311.00,367.30C314.80,367.95 319.33,368.38 321.00,368.60"/>
<path d="M59.00,334.60C61.33,335.05 68.50,336.02 73.00,337.30C77.50,338.58 81.67,340.35 86.00,342.30C90.33,344.25 94.67,346.80 99.00,349.00C103.33,351.20 107.67,353.55 112.00,355.50C116.33,357.45 120.47,358.97 125.00,360.70C129.53,362.43 134.88,364.23 139.20,365.90C143.52,367.57 147.22,368.87 150.90,370.70C154.58,372.53 157.82,375.17 161.30,376.90C164.78,378.63 168.83,380.13 171.80,381.10C174.77,382.07 176.32,382.78 179.10,382.70C181.88,382.62 185.88,381.38 188.50,380.60C191.12,379.82 192.80,378.70 194.80,378.00C196.80,377.30 198.42,376.85 200.50,376.40C202.58,375.95 205.05,375.43 207.30,375.30C209.55,375.17 211.88,375.28 214.00,375.60C216.12,375.92 217.53,376.50 220.00,377.20C222.47,377.90 224.10,378.17 228.80,379.80C233.50,381.43 241.73,384.52 248.20,387.00C254.67,389.48 261.13,392.77 267.60,394.70C274.07,396.63 280.53,397.72 287.00,398.60C293.47,399.48 300.73,399.73 306.40,400.00C312.07,400.27 318.57,400.17 321.00,400.20"/>
<path d="M59.00,360.50C61.98,361.72 70.07,365.30 76.90,367.80C83.73,370.30 92.47,372.78 100.00,375.50C107.53,378.22 115.83,381.87 122.10,384.10C128.37,386.33 131.78,386.28 137.60,388.90C143.42,391.52 152.43,397.35 157.00,399.80C161.57,402.25 162.50,402.52 165.00,403.60C167.50,404.68 169.67,405.70 172.00,406.30C174.33,406.90 176.47,407.40 179.00,407.20C181.53,407.00 184.45,406.15 187.20,405.10C189.95,404.05 192.72,402.03 195.50,400.90C198.28,399.77 201.12,398.65 203.90,398.30C206.68,397.95 209.07,398.28 212.20,398.80C215.33,399.32 219.73,400.43 222.70,401.40C225.67,402.37 227.05,403.20 230.00,404.60C232.95,406.00 236.72,408.22 240.40,409.80C244.08,411.38 247.57,412.80 252.10,414.10C256.63,415.40 261.78,416.78 267.60,417.60C273.42,418.42 280.53,418.77 287.00,419.00C293.47,419.23 300.73,419.07 306.40,419.00C312.07,418.93 318.57,418.67 321.00,418.60"/>
<path d="M59.00,389.70C62.40,390.38 72.77,392.48 79.40,393.80C86.03,395.12 92.33,396.15 98.80,397.60C105.27,399.05 111.08,400.23 118.20,402.50C125.32,404.77 137.03,409.48 141.50,411.20C145.97,412.92 143.05,411.78 145.00,412.80C146.95,413.82 150.47,415.73 153.20,417.30C155.93,418.87 158.67,420.83 161.40,422.20C164.13,423.57 166.87,424.40 169.60,425.50C172.33,426.60 175.33,427.57 177.80,428.80C180.27,430.03 182.33,431.67 184.40,432.90C186.47,434.13 188.55,435.23 190.20,436.20C191.85,437.17 192.42,437.63 194.30,438.70C196.18,439.77 198.57,441.67 201.50,442.60C204.43,443.53 208.00,444.03 211.90,444.30C215.80,444.57 221.22,444.33 224.90,444.20C228.58,444.07 230.35,443.83 234.00,443.50C237.65,443.17 242.52,442.85 246.80,442.20C251.08,441.55 255.42,440.35 259.70,439.60C263.98,438.85 268.22,438.33 272.50,437.70C276.78,437.07 281.12,436.33 285.40,435.80C289.68,435.27 293.93,434.87 298.20,434.50C302.47,434.13 307.20,433.85 311.00,433.60C314.80,433.35 319.33,433.10 321.00,433.00"/>
<path d="M59.00,415.90C62.40,416.25 72.57,416.73 79.40,418.00C86.23,419.27 92.88,421.23 100.00,423.50C107.12,425.77 116.15,429.35 122.10,431.60C128.05,433.85 131.55,435.22 135.70,437.00C139.85,438.78 142.95,440.87 147.00,442.30C151.05,443.73 155.67,444.52 160.00,445.60C164.33,446.68 169.33,447.83 173.00,448.80C176.67,449.77 179.20,450.65 182.00,451.40C184.80,452.15 186.98,452.87 189.80,453.30C192.62,453.73 195.22,453.77 198.90,454.00C202.58,454.23 207.57,454.37 211.90,454.70C216.23,455.03 221.22,455.53 224.90,456.00C228.58,456.47 230.35,456.70 234.00,457.50C237.65,458.30 243.17,459.72 246.80,460.80C250.43,461.88 252.60,462.93 255.80,464.00C259.00,465.07 262.15,466.33 266.00,467.20C269.85,468.07 273.53,468.67 278.90,469.20C284.27,469.73 293.02,470.00 298.20,470.40C303.38,470.80 306.20,471.13 310.00,471.60C313.80,472.07 319.17,472.93 321.00,473.20"/>
<path d="M59.00,480.40C61.10,481.08 66.60,481.23 71.60,484.50C76.60,487.77 83.17,494.67 89.00,500.00C94.83,505.33 101.73,512.78 106.60,516.50C111.47,520.22 113.03,520.68 118.20,522.30C123.37,523.92 132.80,525.72 137.60,526.20C142.40,526.68 143.27,525.92 147.00,525.20C150.73,524.48 155.67,522.88 160.00,521.90C164.33,520.92 168.67,519.95 173.00,519.30C177.33,518.65 181.67,518.32 186.00,518.00C190.33,517.68 195.12,517.47 199.00,517.40C202.88,517.33 206.28,517.28 209.30,517.60C212.32,517.92 214.50,518.52 217.10,519.30C219.70,520.08 222.08,521.43 224.90,522.30C227.72,523.17 230.12,523.53 234.00,524.50C237.88,525.47 243.25,527.17 248.20,528.10C253.15,529.03 258.07,529.95 263.70,530.10C269.33,530.25 275.85,529.48 282.00,529.00C288.15,528.52 294.10,527.98 300.60,527.20C307.10,526.42 317.60,524.78 321.00,524.30"/>
<path d="M59.00,528.50C60.47,529.67 65.03,532.93 67.80,535.50C70.57,538.07 73.22,541.07 75.60,543.90C77.98,546.73 80.87,550.82 82.10,552.50C83.33,554.18 82.85,553.75 83.00,554.00"/>
<path d="M203.00,553.00C205.37,552.57 211.28,551.97 217.20,550.40C223.12,548.83 230.53,545.33 238.50,543.60C246.47,541.87 255.62,540.80 265.00,540.00C274.38,539.20 285.47,539.32 294.80,538.80C304.13,538.28 316.63,537.22 321.00,536.90"/>
<path d="M246.00,553.00C248.33,552.53 254.78,550.87 260.00,550.20C265.22,549.53 270.63,549.32 277.30,549.00C283.97,548.68 292.72,548.50 300.00,548.30C307.28,548.10 317.50,547.88 321.00,547.80"/>
<path d="M241.10,492.80C241.43,490.63 242.97,489.97 245.00,488.80C247.03,487.63 248.72,486.52 253.30,485.80C257.88,485.08 266.08,484.28 272.50,484.50C278.92,484.72 286.23,486.03 291.80,487.10C297.37,488.17 302.48,489.00 305.90,490.90C309.32,492.80 311.95,495.98 312.30,498.50C312.65,501.02 310.88,503.67 308.00,506.00C305.12,508.33 299.33,510.92 295.00,512.50C290.67,514.08 285.75,515.03 282.00,515.50C278.25,515.97 276.22,515.55 272.50,515.30C268.78,515.05 263.55,514.97 259.70,514.00C255.85,513.03 252.18,511.53 249.40,509.50C246.62,507.47 244.38,504.58 243.00,501.80C241.62,499.02 240.77,494.97 241.10,492.80Z"/>
</g>
<text transform="translate(194.2,352.3) rotate(-12)" x="0" y="6.46" text-anchor="middle" font-size="19">0.6</text>
<text transform="translate(164.3,376) rotate(16)" x="0" y="6.46" text-anchor="middle" font-size="19">0.65</text>
<text transform="translate(100.2,375) rotate(20)" x="0" y="6.46" text-anchor="middle" font-size="19">0.7</text>
<text transform="translate(168,423.6) rotate(26)" x="0" y="6.46" text-anchor="middle" font-size="19">0.75</text>
<text transform="translate(100.7,424.5) rotate(15)" x="0" y="6.46" text-anchor="middle" font-size="19">0.8</text>
<text transform="translate(89.5,502) rotate(50)" x="0" y="6.46" text-anchor="middle" font-size="19">0.8</text>
<text transform="translate(297.3,505.3) rotate(-43)" x="0" y="6.46" text-anchor="middle" font-size="19">0.85</text>
<text transform="translate(276.8,527) rotate(-5)" x="0" y="6.46" text-anchor="middle" font-size="19">0.8</text>
<text transform="translate(263.5,542) rotate(-8)" x="0" y="6.46" text-anchor="middle" font-size="19">0.75</text>
<path d="M167.20,438.00L180.80,438.00M169.19,433.19L178.81,442.81M174.00,431.20L174.00,444.80M178.81,433.19L169.19,442.81" stroke="#e8302a" stroke-width="1.25" fill="none"/>
</g>
<rect x="60.5" y="323.5" width="259" height="228" fill="none" stroke="#333" stroke-width="1"/><clipPath id="clipd"><rect x="403" y="323" width="261" height="229"/></clipPath>
<mask id="maskd" maskUnits="userSpaceOnUse" x="0" y="0" width="670" height="613"><rect x="0" y="0" width="670" height="613" fill="#fff"/><rect x="-22.0" y="-7.5" width="44.0" height="15" transform="translate(478.7,354.4) rotate(65)" fill="#000"/><rect x="-29.6" y="-7.5" width="59.2" height="15" transform="translate(435,413.7) rotate(50)" fill="#000"/><rect x="-29.6" y="-7.5" width="59.2" height="15" transform="translate(590.3,423.8) rotate(55)" fill="#000"/><rect x="-29.6" y="-7.5" width="59.2" height="15" transform="translate(617.4,396.7) rotate(55)" fill="#000"/><rect x="-24.0" y="-7.5" width="48.0" height="15" transform="translate(625.3,478) rotate(19)" fill="#000"/><rect x="-29.6" y="-7.5" width="59.2" height="15" transform="translate(610,501.4) rotate(15)" fill="#000"/><rect x="-29.6" y="-7.5" width="59.2" height="15" transform="translate(549.1,507.8) rotate(12)" fill="#000"/><rect x="-29.6" y="-7.5" width="59.2" height="15" transform="translate(540.5,539.2) rotate(11)" fill="#000"/></mask>
<g clip-path="url(#clipd)">
<rect x="403" y="323" width="261" height="229" fill="#282f80"/>
<path d="M402.00,523.10C405.40,524.10 415.77,527.13 422.40,529.10C429.03,531.07 435.33,533.28 441.80,534.90C448.27,536.52 454.73,537.98 461.20,538.80C467.67,539.62 474.78,540.12 480.60,539.80C486.42,539.48 490.92,537.78 496.10,536.90C501.28,536.02 504.38,534.15 511.70,534.50C519.02,534.85 530.30,537.53 540.00,539.00C549.70,540.47 561.20,542.37 569.90,543.30C578.60,544.23 583.63,543.90 592.20,544.60C600.77,545.30 611.60,546.62 621.30,547.50C631.00,548.38 643.12,549.32 650.40,549.90C657.68,550.48 662.57,550.82 665.00,551.00L665.00,322.00L402.00,322.00Z" fill="#3551a2"/>
<path d="M402.00,451.50C404.33,452.87 411.50,456.70 416.00,459.70C420.50,462.70 424.67,466.15 429.00,469.50C433.33,472.85 437.67,476.78 442.00,479.80C446.33,482.82 451.33,485.48 455.00,487.60C458.67,489.72 460.55,491.00 464.00,492.50C467.45,494.00 471.37,495.60 475.70,496.60C480.03,497.60 485.95,498.07 490.00,498.50C494.05,498.93 495.10,499.03 500.00,499.20C504.90,499.37 513.90,499.28 519.40,499.50C524.90,499.72 528.07,499.17 533.00,500.50C537.93,501.83 543.67,505.42 549.00,507.50C554.33,509.58 560.07,511.50 565.00,513.00C569.93,514.50 572.45,514.82 578.60,516.50C584.75,518.18 594.78,521.18 601.90,523.10C609.02,525.02 614.83,526.45 621.30,528.00C627.77,529.55 633.42,531.12 640.70,532.40C647.98,533.68 660.95,535.15 665.00,535.70L665.00,322.00L402.00,322.00Z" fill="#4296d2"/>
<path d="M402.00,375.10C403.47,376.75 408.37,382.22 410.80,385.00C413.23,387.78 412.57,387.13 416.60,391.80C420.63,396.47 428.87,406.37 435.00,413.00C441.13,419.63 448.72,427.52 453.40,431.60C458.08,435.68 459.00,435.18 463.10,437.50C467.20,439.82 473.52,443.32 478.00,445.50C482.48,447.68 485.83,448.77 490.00,450.60C494.17,452.43 498.67,454.43 503.00,456.50C507.33,458.57 511.67,461.17 516.00,463.00C520.33,464.83 524.68,465.98 529.00,467.50C533.32,469.02 537.58,470.47 541.90,472.10C546.22,473.73 550.57,475.68 554.90,477.30C559.23,478.92 564.22,480.30 567.90,481.80C571.58,483.30 574.18,484.87 577.00,486.30C579.82,487.73 579.30,487.95 584.80,490.40C590.30,492.85 600.70,497.63 610.00,501.00C619.30,504.37 631.43,507.85 640.60,510.60C649.77,513.35 660.93,516.35 665.00,517.50L665.00,322.00L402.00,322.00Z" fill="#86c98b"/>
<path d="M467.50,322.00C467.92,323.47 469.43,327.73 470.00,330.80C470.57,333.87 469.57,335.87 470.90,340.40C472.23,344.93 475.42,352.18 478.00,358.00C480.58,363.82 483.70,370.47 486.40,375.30C489.10,380.13 491.28,383.28 494.20,387.00C497.12,390.72 500.35,394.70 503.90,397.60C507.45,400.50 511.62,401.97 515.50,404.40C519.38,406.83 524.12,409.52 527.20,412.20C530.28,414.88 530.60,416.37 534.00,420.50C537.40,424.63 543.40,432.95 547.60,437.00C551.80,441.05 555.00,442.22 559.20,444.80C563.40,447.38 567.95,449.92 572.80,452.50C577.65,455.08 583.13,457.72 588.30,460.30C593.47,462.88 597.68,464.97 603.80,468.00C609.92,471.03 617.88,474.93 625.00,478.50C632.12,482.07 639.83,486.62 646.50,489.40C653.17,492.18 661.92,494.23 665.00,495.20L665.00,322.00Z" fill="#ffde00"/>
<path d="M571.00,322.00C570.33,324.10 568.15,329.58 567.00,334.60C565.85,339.62 564.43,345.95 564.10,352.10C563.77,358.25 564.20,365.68 565.00,371.50C565.80,377.32 567.28,382.15 568.90,387.00C570.52,391.85 572.75,396.73 574.70,400.60C576.65,404.47 577.88,406.30 580.60,410.20C583.32,414.10 587.27,419.53 591.00,424.00C594.73,428.47 598.83,433.53 603.00,437.00C607.17,440.47 611.67,442.42 616.00,444.80C620.33,447.18 624.68,449.35 629.00,451.30C633.32,453.25 637.58,454.67 641.90,456.50C646.22,458.33 651.05,460.63 654.90,462.30C658.75,463.97 663.32,465.80 665.00,466.50L665.00,322.00Z" fill="#ef3b24"/>
<path d="M619.80,322.00C619.25,323.00 617.57,326.10 616.50,328.00C615.43,329.90 614.78,330.98 613.40,333.40C612.02,335.82 609.72,339.47 608.20,342.50C606.68,345.53 605.28,348.35 604.30,351.60C603.32,354.85 602.52,358.33 602.30,362.00C602.08,365.67 602.55,370.60 603.00,373.60C603.45,376.60 602.67,376.18 605.00,380.00C607.33,383.82 612.02,390.48 617.00,396.50C621.98,402.52 630.62,411.22 634.90,416.10C639.18,420.98 639.80,422.32 642.70,425.80C645.60,429.28 649.83,434.27 652.30,437.00C654.77,439.73 655.38,440.82 657.50,442.20C659.62,443.58 663.75,444.78 665.00,445.30L665.00,322.00Z" fill="#801516"/>
<g mask="url(#maskd)" fill="none" stroke="#000" stroke-width="1.3" stroke-linejoin="round">
<path d="M402.00,523.10C405.40,524.10 415.77,527.13 422.40,529.10C429.03,531.07 435.33,533.28 441.80,534.90C448.27,536.52 454.73,537.98 461.20,538.80C467.67,539.62 474.78,540.12 480.60,539.80C486.42,539.48 490.92,537.78 496.10,536.90C501.28,536.02 504.38,534.15 511.70,534.50C519.02,534.85 530.30,537.53 540.00,539.00C549.70,540.47 561.20,542.37 569.90,543.30C578.60,544.23 583.63,543.90 592.20,544.60C600.77,545.30 611.60,546.62 621.30,547.50C631.00,548.38 643.12,549.32 650.40,549.90C657.68,550.48 662.57,550.82 665.00,551.00"/>
<path d="M402.00,451.50C404.33,452.87 411.50,456.70 416.00,459.70C420.50,462.70 424.67,466.15 429.00,469.50C433.33,472.85 437.67,476.78 442.00,479.80C446.33,482.82 451.33,485.48 455.00,487.60C458.67,489.72 460.55,491.00 464.00,492.50C467.45,494.00 471.37,495.60 475.70,496.60C480.03,497.60 485.95,498.07 490.00,498.50C494.05,498.93 495.10,499.03 500.00,499.20C504.90,499.37 513.90,499.28 519.40,499.50C524.90,499.72 528.07,499.17 533.00,500.50C537.93,501.83 543.67,505.42 549.00,507.50C554.33,509.58 560.07,511.50 565.00,513.00C569.93,514.50 572.45,514.82 578.60,516.50C584.75,518.18 594.78,521.18 601.90,523.10C609.02,525.02 614.83,526.45 621.30,528.00C627.77,529.55 633.42,531.12 640.70,532.40C647.98,533.68 660.95,535.15 665.00,535.70"/>
<path d="M402.00,375.10C403.47,376.75 408.37,382.22 410.80,385.00C413.23,387.78 412.57,387.13 416.60,391.80C420.63,396.47 428.87,406.37 435.00,413.00C441.13,419.63 448.72,427.52 453.40,431.60C458.08,435.68 459.00,435.18 463.10,437.50C467.20,439.82 473.52,443.32 478.00,445.50C482.48,447.68 485.83,448.77 490.00,450.60C494.17,452.43 498.67,454.43 503.00,456.50C507.33,458.57 511.67,461.17 516.00,463.00C520.33,464.83 524.68,465.98 529.00,467.50C533.32,469.02 537.58,470.47 541.90,472.10C546.22,473.73 550.57,475.68 554.90,477.30C559.23,478.92 564.22,480.30 567.90,481.80C571.58,483.30 574.18,484.87 577.00,486.30C579.82,487.73 579.30,487.95 584.80,490.40C590.30,492.85 600.70,497.63 610.00,501.00C619.30,504.37 631.43,507.85 640.60,510.60C649.77,513.35 660.93,516.35 665.00,517.50"/>
<path d="M467.50,322.00C467.92,323.47 469.43,327.73 470.00,330.80C470.57,333.87 469.57,335.87 470.90,340.40C472.23,344.93 475.42,352.18 478.00,358.00C480.58,363.82 483.70,370.47 486.40,375.30C489.10,380.13 491.28,383.28 494.20,387.00C497.12,390.72 500.35,394.70 503.90,397.60C507.45,400.50 511.62,401.97 515.50,404.40C519.38,406.83 524.12,409.52 527.20,412.20C530.28,414.88 530.60,416.37 534.00,420.50C537.40,424.63 543.40,432.95 547.60,437.00C551.80,441.05 555.00,442.22 559.20,444.80C563.40,447.38 567.95,449.92 572.80,452.50C577.65,455.08 583.13,457.72 588.30,460.30C593.47,462.88 597.68,464.97 603.80,468.00C609.92,471.03 617.88,474.93 625.00,478.50C632.12,482.07 639.83,486.62 646.50,489.40C653.17,492.18 661.92,494.23 665.00,495.20"/>
<path d="M571.00,322.00C570.33,324.10 568.15,329.58 567.00,334.60C565.85,339.62 564.43,345.95 564.10,352.10C563.77,358.25 564.20,365.68 565.00,371.50C565.80,377.32 567.28,382.15 568.90,387.00C570.52,391.85 572.75,396.73 574.70,400.60C576.65,404.47 577.88,406.30 580.60,410.20C583.32,414.10 587.27,419.53 591.00,424.00C594.73,428.47 598.83,433.53 603.00,437.00C607.17,440.47 611.67,442.42 616.00,444.80C620.33,447.18 624.68,449.35 629.00,451.30C633.32,453.25 637.58,454.67 641.90,456.50C646.22,458.33 651.05,460.63 654.90,462.30C658.75,463.97 663.32,465.80 665.00,466.50"/>
<path d="M619.80,322.00C619.25,323.00 617.57,326.10 616.50,328.00C615.43,329.90 614.78,330.98 613.40,333.40C612.02,335.82 609.72,339.47 608.20,342.50C606.68,345.53 605.28,348.35 604.30,351.60C603.32,354.85 602.52,358.33 602.30,362.00C602.08,365.67 602.55,370.60 603.00,373.60C603.45,376.60 602.67,376.18 605.00,380.00C607.33,383.82 612.02,390.48 617.00,396.50C621.98,402.52 630.62,411.22 634.90,416.10C639.18,420.98 639.80,422.32 642.70,425.80C645.60,429.28 649.83,434.27 652.30,437.00C654.77,439.73 655.38,440.82 657.50,442.20C659.62,443.58 663.75,444.78 665.00,445.30"/>
</g>
<text transform="translate(478.7,354.4) rotate(65)" x="0" y="6.46" text-anchor="middle" font-size="19">0.9</text>
<text transform="translate(435,413.7) rotate(50)" x="0" y="6.46" text-anchor="middle" font-size="19">0.86</text>
<text transform="translate(590.3,423.8) rotate(55)" x="0" y="6.46" text-anchor="middle" font-size="19">0.94</text>
<text transform="translate(617.4,396.7) rotate(55)" x="0" y="6.46" text-anchor="middle" font-size="19">0.98</text>
<text transform="translate(625.3,478) rotate(19)" x="0" y="6.46" text-anchor="middle" font-size="19">0.90</text>
<text transform="translate(610,501.4) rotate(15)" x="0" y="6.46" text-anchor="middle" font-size="19">0.86</text>
<text transform="translate(549.1,507.8) rotate(12)" x="0" y="6.46" text-anchor="middle" font-size="19">0.82</text>
<text transform="translate(540.5,539.2) rotate(11)" x="0" y="6.46" text-anchor="middle" font-size="19">0.78</text>
<path d="M510.50,438.00L524.10,438.00M512.49,433.19L522.11,442.81M517.30,431.20L517.30,444.80M522.11,433.19L512.49,442.81" stroke="#e8302a" stroke-width="1.25" fill="none"/>
</g>
<rect x="403.5" y="323.5" width="260" height="228" fill="none" stroke="#333" stroke-width="1"/><text x="0.5" y="16" font-size="19">(<tspan font-style="italic">a</tspan>)</text>
<text x="341" y="16" font-size="19">(<tspan font-style="italic">b</tspan>)</text>
<text x="0.5" y="315.7" font-size="19">(<tspan font-style="italic">c</tspan>)</text>
<text x="341" y="315.7" font-size="19">(<tspan font-style="italic">d</tspan>)</text>
<text x="190" y="16" font-size="18.6" text-anchor="middle">normalized lift</text>
<text x="533.5" y="16" font-size="18.6" text-anchor="middle">normalized drag</text>
<text x="190" y="315.8" font-size="18.6" text-anchor="middle">span efficiency</text>
<text x="533.5" y="315.8" font-size="18.6" text-anchor="middle">viscous efficiency</text>
<text x="54.8" y="63.599999999999994" font-size="19.3" text-anchor="end">40°</text>
<text x="54.8" y="120.89999999999999" font-size="19.3" text-anchor="end">30°</text>
<text x="54.8" y="178.10000000000002" font-size="19.3" text-anchor="end">20°</text>
<text x="54.8" y="235.60000000000002" font-size="19.3" text-anchor="end">10°</text>
<text x="73.2" y="276.3" font-size="19.3" text-anchor="middle">0°</text>
<text x="134.1" y="276.3" font-size="19.3" text-anchor="middle">10°</text>
<text x="193.8" y="276.3" font-size="19.3" text-anchor="middle">20°</text>
<text x="254.0" y="276.3" font-size="19.3" text-anchor="middle">30°</text>
<text x="313.6" y="276.3" font-size="19.3" text-anchor="middle">40°</text>
<text x="54.8" y="362.6" font-size="19.3" text-anchor="end">40°</text>
<text x="54.8" y="419.90000000000003" font-size="19.3" text-anchor="end">30°</text>
<text x="54.8" y="477.1" font-size="19.3" text-anchor="end">20°</text>
<text x="54.8" y="534.5999999999999" font-size="19.3" text-anchor="end">10°</text>
<text x="73.2" y="576.8" font-size="19.3" text-anchor="middle">0°</text>
<text x="134.1" y="576.8" font-size="19.3" text-anchor="middle">10°</text>
<text x="193.8" y="576.8" font-size="19.3" text-anchor="middle">20°</text>
<text x="254.0" y="576.8" font-size="19.3" text-anchor="middle">30°</text>
<text x="313.6" y="576.8" font-size="19.3" text-anchor="middle">40°</text>
<text x="397.8" y="63.599999999999994" font-size="19.3" text-anchor="end">40°</text>
<text x="397.8" y="120.89999999999999" font-size="19.3" text-anchor="end">30°</text>
<text x="397.8" y="178.10000000000002" font-size="19.3" text-anchor="end">20°</text>
<text x="397.8" y="235.60000000000002" font-size="19.3" text-anchor="end">10°</text>
<text x="416.2" y="276.3" font-size="19.3" text-anchor="middle">0°</text>
<text x="477.1" y="276.3" font-size="19.3" text-anchor="middle">10°</text>
<text x="536.8" y="276.3" font-size="19.3" text-anchor="middle">20°</text>
<text x="597.0" y="276.3" font-size="19.3" text-anchor="middle">30°</text>
<text x="656.6" y="276.3" font-size="19.3" text-anchor="middle">40°</text>
<text x="397.8" y="362.6" font-size="19.3" text-anchor="end">40°</text>
<text x="397.8" y="419.90000000000003" font-size="19.3" text-anchor="end">30°</text>
<text x="397.8" y="477.1" font-size="19.3" text-anchor="end">20°</text>
<text x="397.8" y="534.5999999999999" font-size="19.3" text-anchor="end">10°</text>
<text x="416.2" y="576.8" font-size="19.3" text-anchor="middle">0°</text>
<text x="477.1" y="576.8" font-size="19.3" text-anchor="middle">10°</text>
<text x="536.8" y="576.8" font-size="19.3" text-anchor="middle">20°</text>
<text x="597.0" y="576.8" font-size="19.3" text-anchor="middle">30°</text>
<text x="656.6" y="576.8" font-size="19.3" text-anchor="middle">40°</text>
<text x="1.5" y="141.5" font-size="19" font-style="italic">ϕ<tspan font-style="normal" font-size="13" dx="-0.6" dy="5.8">p</tspan></text>
<text x="1.5" y="440.0" font-size="19" font-style="italic">ϕ<tspan font-style="normal" font-size="13" dx="-0.6" dy="5.8">p</tspan></text>
<text x="183" y="602" font-size="19" font-style="italic">ϕ<tspan font-style="normal" font-size="13" dy="4">s</tspan></text>
<text x="526" y="602" font-size="19" font-style="italic">ϕ<tspan font-style="normal" font-size="13" dy="4">s</tspan></text></svg>
</body></html>
